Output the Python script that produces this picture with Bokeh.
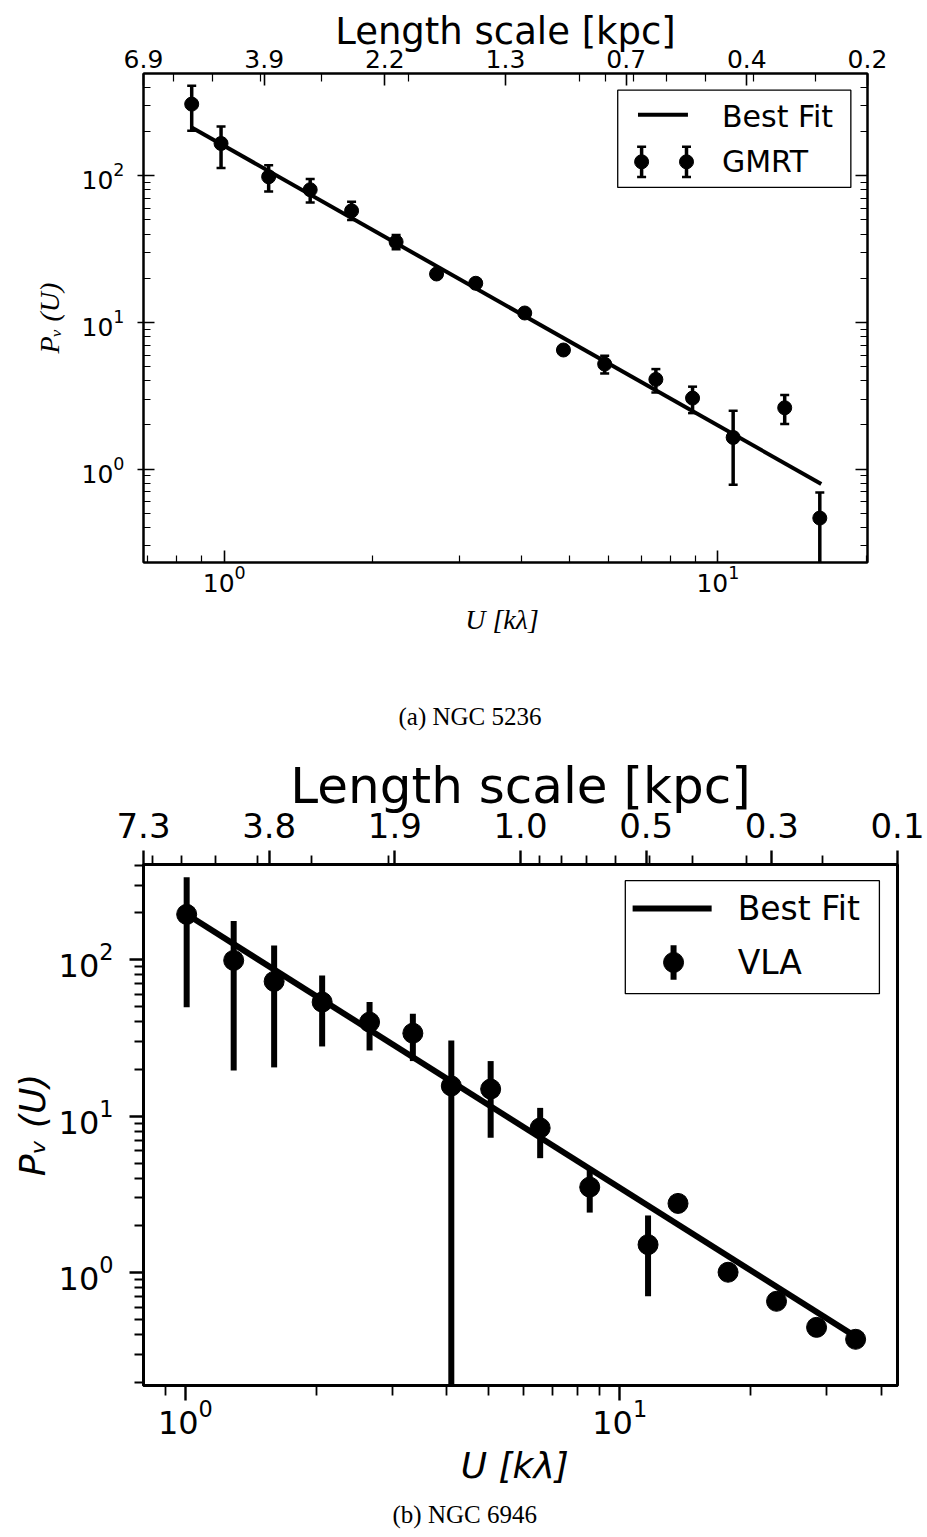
import math
from bokeh.plotting import figure
from bokeh.models import (LogAxis, LinearAxis, FixedTicker, Range1d, LinearScale,
                          ColumnDataSource, CustomJSTickFormatter, Title)
from bokeh.core.properties import value
from bokeh.layouts import column
from bokeh.embed import file_html
from bokeh.resources import INLINE

# ---------------- Panel (a): NGC 5236, GMRT ----------------
gmrt_u = [0.859, 0.985, 1.230, 1.493, 1.811, 2.229, 2.692, 3.232, 4.062, 4.866,
          5.898, 7.489, 8.887, 10.74, 13.66, 16.09]
gmrt_p = [308, 166, 98.4, 80.3, 57.7, 35.4, 21.4, 18.5, 11.6, 6.49,
          5.20, 4.09, 3.05, 1.645, 2.62, 0.464]
gmrt_hi = [411, 217, 118, 95, 66.5, 39.5, 22.1, 19.1, 12.0, 6.70,
           5.93, 4.81, 3.65, 2.50, 3.20, 0.694]
gmrt_lo = [203, 113, 78.2, 65.8, 49.9, 31.6, 20.7, 17.9, 11.2, 6.28,
           4.49, 3.33, 2.41, 0.783, 2.03, 0.001]
fit_a_u = [0.859, 16.2]
fit_a_p = [213.5, 0.792]
top_labels_a = ["6.9", "3.9", "2.2", "1.3", "0.7", "0.4", "0.2"]
dist_a = 4.73          # kpc per (1/kλ)
xr_a = (0.686, 20.1)
yr_a = (0.231, 498)

# ---------------- Panel (b): NGC 6946, VLA ----------------
vla_u = [1.007, 1.292, 1.601, 2.065, 2.655, 3.340, 4.095, 5.045, 6.559, 8.53,
         11.62, 13.62, 17.76, 22.96, 28.39, 34.92]
vla_p = [194.9, 99.0, 72.7, 53.6, 39.9, 33.9, 15.6, 14.9, 8.41, 3.52,
         1.51, 2.77, 1.006, 0.656, 0.447, 0.375]
vla_hi = [337, 176.5, 123.4, 79.4, 53.6, 45.2, 30.5, 22.5, 11.3, 4.61,
          2.32, 2.77, 1.006, 0.656, 0.447, 0.375]
vla_lo = [49.7, 19.6, 20.5, 27.9, 26.3, 22.5, 0.001, 7.28, 5.39, 2.42,
          0.706, 2.77, 1.006, 0.656, 0.447, 0.375]
fit_b_u = [1.007, 34.92]
fit_b_p = [195, 0.39]
top_labels_b = ["7.3", "3.8", "1.9", "1.0", "0.5", "0.3", "0.1"]
dist_b = 5.87
xr_b = (0.801, 43.6)
yr_b = (0.19, 406)

captions = ["(a) NGC 5236", "(b) NGC 6946"]

minor_L = [0.2, 0.3, 0.4, 0.5, 0.6, 0.7, 0.8, 0.9, 2, 3, 4, 5, 6, 7, 8, 9]


def log_ticks(lo_dec, hi_dec):
    major = [10.0 ** d for d in range(lo_dec, hi_dec + 1)]
    minor = [m * 10.0 ** d for d in range(lo_dec, hi_dec + 1) for m in range(2, 10)]
    return major, minor


def style_axis(ax, font_size, line_w, tin, tout, min_in, min_out, standoff):
    ax.axis_line_width = line_w
    ax.axis_line_color = "black"
    ax.major_tick_line_width = line_w * 0.8
    ax.minor_tick_line_width = line_w * 0.6
    ax.major_tick_in = tin
    ax.major_tick_out = tout
    ax.minor_tick_in = min_in
    ax.minor_tick_out = min_out
    ax.major_label_text_font = "DejaVu Sans"
    ax.major_label_text_font_size = font_size
    ax.major_label_text_color = "black"
    ax.major_label_standoff = standoff


def style_caption(t, standoff, offset):
    t.align = "left"
    t.offset = offset
    t.text_font = "Liberation Serif"
    t.text_font_size = "25px"
    t.text_font_style = "normal"
    t.text_color = "black"
    t.standoff = standoff


def fx(xr, f):
    lo, hi = math.log10(xr[0]), math.log10(xr[1])
    return 10 ** (lo + f * (hi - lo))


def make_panel(u, p, hi, lo, fu, fp, xr, yr, dist, top_labels, name,
               w, h, borders, s, cap_below=None, cap_above=None):
    (bl, br, bt, bb) = borders
    kw = dict(width=w, height=h, x_axis_type="log", y_axis_type="log",
              x_range=Range1d(*xr), y_range=Range1d(*yr),
              output_backend="svg", toolbar_location=None,
              min_border_left=bl, min_border_right=br,
              min_border_top=bt, min_border_bottom=bb)
    if cap_below is not None:
        kw.update(title=cap_below, title_location="below")
    fig = figure(**kw)
    fig.grid.visible = False
    fig.background_fill_color = "white"
    fig.border_fill_color = "white"
    fig.outline_line_color = "black"
    fig.outline_line_width = s["frame"]

    src = ColumnDataSource(dict(u=u, p=p, hi=hi, lo=lo))
    fig.line(fu, fp, line_color="black", line_width=s["fit"])
    fig.segment(x0="u", y0="lo", x1="u", y1="hi", source=src,
                line_color="black", line_width=s["err"])
    if s["cap"] > 0:
        fig.scatter(x="u", y="hi", source=src, marker="dash", size=s["cap"],
                    line_color="black", line_width=s["capw"])
        fig.scatter(x="u", y="lo", source=src, marker="dash", size=s["cap"],
                    line_color="black", line_width=s["capw"])
    fig.scatter(x="u", y="p", source=src, marker="circle", size=s["mk"],
                fill_color="black", line_color="black")

    xmaj, xmin_ = log_ticks(-1, 2)
    ymaj, ymin_ = log_ticks(-1, 3)

    # bottom axis
    xa = fig.xaxis[0]
    xa.ticker = FixedTicker(ticks=xmaj, minor_ticks=xmin_)
    style_axis(xa, s["tick_font"], s["frame"], *s["xticks"])
    xa.axis_label = "U  [kλ]"
    xa.axis_label_text_font = s["lab_font"]
    xa.axis_label_text_font_size = s["lab_size"]
    xa.axis_label_text_font_style = "italic"
    xa.axis_label_text_color = "black"
    xa.axis_label_standoff = s["xlab_so"]

    # left axis
    ya = fig.yaxis[0]
    ya.ticker = FixedTicker(ticks=ymaj, minor_ticks=ymin_)
    style_axis(ya, s["tick_font"], s["frame"], *s["yticks"])
    ya.axis_label = "Pᵥ (U)"
    ya.axis_label_text_font = s["lab_font"]
    ya.axis_label_text_font_size = s["lab_size"]
    ya.axis_label_text_font_style = "italic"
    ya.axis_label_text_color = "black"
    ya.axis_label_standoff = s["ylab_so"]

    if s["right_axis"]:
        ra = LogAxis(ticker=FixedTicker(ticks=ymaj, minor_ticks=ymin_),
                     formatter=CustomJSTickFormatter(code="return ''"))
        style_axis(ra, "1px", s["frame"], 12, 0, 7, 0, 0)
        fig.add_layout(ra, "right")

    # top axis: length scale, 7 equally spaced labels
    lo_l, hi_l = math.log10(xr[0]), math.log10(xr[1])
    n = len(top_labels) - 1
    minor_pos = []
    for L in minor_L:
        pos = n * (math.log10(dist / L) - lo_l) / (hi_l - lo_l)
        if 0 < pos < n:
            minor_pos.append(pos)
    fig.extra_x_ranges = {"top": Range1d(0, n)}
    fig.extra_x_scales = {"top": LinearScale()}
    ta = LinearAxis(x_range_name="top",
                    ticker=FixedTicker(ticks=list(range(n + 1)), minor_ticks=minor_pos),
                    major_label_overrides={i: lab for i, lab in enumerate(top_labels)})
    style_axis(ta, s["top_font"], s["frame"], *s["tticks"])
    ta.axis_label = "Length scale [kpc]"
    ta.axis_label_text_font = "DejaVu Sans"
    ta.axis_label_text_font_size = s["top_lab_size"]
    ta.axis_label_text_font_style = "normal"
    ta.axis_label_text_color = "black"
    ta.axis_label_standoff = s["tlab_so"]
    fig.add_layout(ta, "above")

    # captions
    if cap_below is not None:
        style_caption(fig.title, s["cap_so"], s["cap_off"])
    if cap_above is not None:
        t = Title(text=cap_above)
        style_caption(t, s["cap_above_so"], s["cap_above_off"])
        fig.add_layout(t, "above")

    # legend (placed in axes-fraction coordinates, like matplotlib's legend)
    bx0, bx1, by0, by1 = s["leg_box"]
    fig.quad(left=[fx(xr, bx0)], right=[fx(xr, bx1)],
             bottom=[fx(yr, by0)], top=[fx(yr, by1)],
             fill_color="white", line_color="black", line_width=1.3)
    lx0, lx1, ly = s["leg_line"]
    fig.line([fx(xr, lx0), fx(xr, lx1)], [fx(yr, ly), fx(yr, ly)],
             line_color="black", line_width=s["fit"])
    mxs, my, mdy = s["leg_mk"]
    mk_x = [fx(xr, f) for f in mxs]
    mk_top = [fx(yr, my + mdy)] * len(mxs)
    mk_bot = [fx(yr, my - mdy)] * len(mxs)
    fig.segment(x0=mk_x, x1=mk_x, y0=mk_bot, y1=mk_top,
                line_color="black", line_width=s["err"])
    if s["cap"] > 0:
        fig.scatter(x=mk_x + mk_x, y=mk_top + mk_bot, marker="dash", size=s["cap"],
                    line_color="black", line_width=s["capw"])
    fig.scatter(x=mk_x, y=[fx(yr, my)] * len(mxs), marker="circle", size=s["mk"],
                fill_color="black", line_color="black")
    tx, ty1, ty2 = s["leg_text"]
    fig.text(x=[fx(xr, tx)] * 2, y=[fx(yr, ty1), fx(yr, ty2)],
             text=["Best Fit", name], text_font=value("DejaVu Sans"),
             text_font_size=value(s["leg_font"]), text_color="black",
             text_baseline="middle", text_align="left")
    return fig


sizes_a = dict(frame=2, fit=4, err=3.5, cap=9, capw=2.5, mk=14,
               tick_font="25px", top_font="25px", lab_font="Liberation Serif",
               lab_size="28px", top_lab_size="37px",
               xticks=(12, 0, 7, 0, 2), yticks=(11, 6, 7, 0, 13),
               tticks=(12, 0, 8, 0, 6), right_axis=True,
               xlab_so=9, ylab_so=14, tlab_so=-6,
               leg_box=(0.655, 0.977, 0.767, 0.966),
               leg_line=(0.683, 0.752, 0.9155),
               leg_mk=([0.688, 0.750], 0.8194, 0.031),
               leg_text=(0.799, 0.913, 0.8194), leg_font="30px")

sizes_b = dict(frame=3, fit=6, err=6, cap=0, capw=0, mk=20,
               tick_font="32px", top_font="34px", lab_font="DejaVu Sans",
               lab_size="36px", top_lab_size="50px",
               xticks=(0, 15, 0, 10, -2), yticks=(0, 14, 0, 9, 16),
               tticks=(0, 14, 0, 9, 13), right_axis=False,
               xlab_so=8, ylab_so=3, tlab_so=-5,
               cap_so=20, cap_off=249, cap_above_so=48, cap_above_off=255,
               leg_box=(0.639, 0.976, 0.752, 0.969),
               leg_line=(0.6487, 0.7535, 0.9155),
               leg_mk=([0.703], 0.812, 0.033),
               leg_text=(0.788, 0.9155, 0.812), leg_font="33px")

p1 = make_panel(gmrt_u, gmrt_p, gmrt_hi, gmrt_lo, fit_a_u, fit_a_p, xr_a, yr_a,
                dist_a, top_labels_a, "GMRT", 897, 674,
                (143, 30, 73, 112), sizes_a)
p2 = make_panel(vla_u, vla_p, vla_hi, vla_lo, fit_b_u, fit_b_p, xr_b, yr_b,
                dist_b, top_labels_b, "VLA", 927, 863,
                (143, 29, 190, 152), sizes_b,
                cap_below=captions[1], cap_above=captions[0])

layout = column(p1, p2, spacing=0)
open("out.html", "w").write(file_html(layout, INLINE))
